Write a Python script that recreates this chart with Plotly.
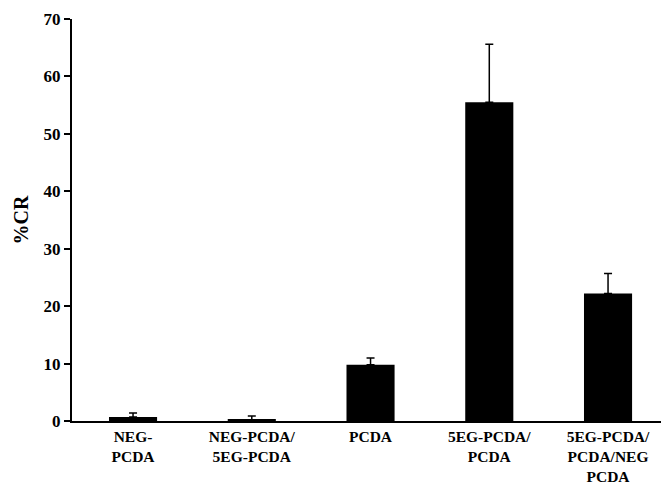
import plotly.graph_objects as go

# Colorimetric response of each vesicle formulation
categories = [
    "NEG-<br>PCDA",
    "NEG-PCDA/<br>5EG-PCDA",
    "PCDA",
    "5EG-PCDA/<br>PCDA",
    "5EG-PCDA/<br>PCDA/NEG<br>PCDA",
]
cr_values = [0.7, 0.2, 9.8, 55.5, 22.2]
cr_errors = [0.7, 0.65, 1.15, 10.1, 3.5]
y_ticks = [0, 10, 20, 30, 40, 50, 60, 70]

serif = "Liberation Serif, Times New Roman, serif"

fig = go.Figure(
    go.Bar(
        x=list(range(len(categories))),
        y=cr_values,
        width=0.405,
        marker=dict(color="black", line=dict(width=0)),
        error_y=dict(
            type="data",
            symmetric=False,
            array=cr_errors,
            arrayminus=[0] * len(cr_errors),
            color="black",
            thickness=1.5,
            width=4,
        ),
    )
)

fig.update_layout(
    width=661,
    height=486,
    margin=dict(l=72, r=0, t=19, b=65),
    plot_bgcolor="white",
    paper_bgcolor="white",
    showlegend=False,
    font=dict(family=serif, color="black"),
)

fig.update_xaxes(
    range=[-0.514, 4.446],
    tickmode="array",
    tickvals=list(range(len(categories))),
    ticktext=categories,
    ticks="",
    showline=True,
    linecolor="black",
    linewidth=2,
    showgrid=False,
    zeroline=False,
    tickfont=dict(family=serif, size=15.5, color="black", weight="bold"),
)

fig.update_yaxes(
    range=[0, 70],
    tickmode="array",
    tickvals=y_ticks,
    ticks="outside",
    ticklen=6,
    tickwidth=2,
    tickcolor="black",
    showline=True,
    linecolor="black",
    linewidth=2,
    showgrid=False,
    zeroline=False,
    tickfont=dict(family=serif, size=17, color="black", weight="bold"),
    title=dict(text="%CR", font=dict(family=serif, size=20, color="black", weight="bold"), standoff=10),
)

fig.write_html("out.html")
